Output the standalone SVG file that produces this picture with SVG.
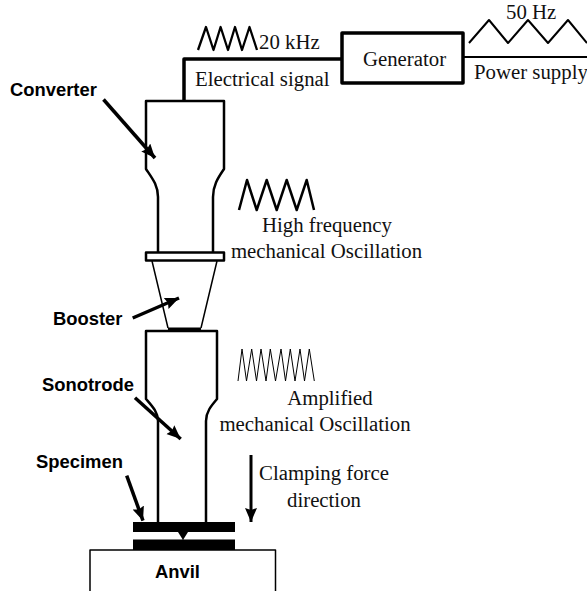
<svg xmlns="http://www.w3.org/2000/svg" width="587" height="591" viewBox="0 0 587 591">
<style>
.s{font-family:"Liberation Serif","Times New Roman",serif;font-size:20.800px;fill:#111}
.m{text-anchor:middle}
.b{font-family:"Liberation Sans",Arial,sans-serif;font-size:18.400px;font-weight:bold;fill:#000}
.o{fill:none;stroke:#000;stroke-linejoin:round}
.a{stroke:#000;stroke-width:3.500;fill:none}
</style>
<defs>
<marker id="ah" markerUnits="userSpaceOnUse" markerWidth="15" markerHeight="14" refX="14" refY="6" orient="auto"><path d="M0 0L14 6L0 12L2 6z" fill="#000"/></marker>
</defs>
<rect width="587" height="591" fill="#fff"/>
<g id="connectors">
<path class="o" stroke-width="3.500" d="M184 101V59H341"/>
<path class="o" stroke-width="2" d="M463 57H587"/>
<path class="a" marker-end="url(#ah)" d="M103.500 99.500L155 158"/>
<path class="a" marker-end="url(#ah)" d="M132.700 318L179 298"/>
<path class="a" marker-end="url(#ah)" d="M135 397.700L180.700 439"/>
<path class="a" marker-end="url(#ah)" d="M126.700 475.700L143 520.700"/>
<path class="a" style="stroke-width:3" marker-end="url(#ah)" d="M251 455V522"/>
</g>
<g id="generator"><rect class="o" x="342" y="33" width="121" height="50" stroke-width="3.500"/><text class="s m" x="404.500" y="66">Generator</text></g>
<g id="electrical-signal"><path class="o" stroke-width="2.300" d="M198 50L206 27L213.500 50L220.600 27L228 50L235 27L242 50L249.500 27L257 50"/><text class="s" x="259" y="49">20 kHz</text><text class="s" x="195" y="86">Electrical signal</text></g>
<g id="power-supply"><path class="o" stroke-width="2" d="M469 43L489 20L508 43L528 20L548 43L568 20L587 43"/><text class="s" x="506" y="19">50 Hz</text><text class="s" x="474" y="79">Power supply</text></g>
<g id="converter"><path class="o" stroke-width="2.500" d="M158 252V197C158 185 152 178 146 169V101H224V169C218 178 213 185 213 197V252"/><text class="b" x="10" y="95.500">Converter</text></g>
<g id="flange"><rect class="o" x="146" y="252.500" width="78" height="8" stroke-width="2.500"/></g>
<g id="booster"><path class="o" stroke-width="1.500" d="M152 261L168 328M217 261L201 328"/><path class="o" stroke-width="3" d="M168 329H201"/><text class="b" x="53" y="325">Booster</text></g>
<g id="sonotrode"><path class="o" stroke-width="2.500" d="M158 522V421C158 412 152 406 146 399V331H217V399C211 406 206 412 206 421V522"/><text class="b" x="42" y="390.500">Sonotrode</text></g>
<g id="specimen"><path fill="#000" d="M133 522H235V532H188L183 540L178 532H133zM133 539.500H235V550H133z"/><text class="b" x="36" y="468">Specimen</text></g>
<g id="anvil"><path class="o" stroke-width="1.500" d="M90 591V550H275.500V591"/><text class="b m" x="177.500" y="577.500">Anvil</text></g>
<g id="high-frequency"><path class="o" stroke-width="2.500" d="M239 210L247 180L256.700 210L266.700 180L276.700 210L286.700 180L296.700 210L306.700 180L314 210"/><text class="s m" x="327" y="232">High frequency</text><text class="s m" x="326.500" y="258">mechanical Oscillation</text></g>
<g id="amplified"><path class="o" stroke-width="1" d="M238 381L242 349L246.500 381L251.700 349L256.500 381L261 349L266 381L270.300 349L275.500 381L281 349L285.500 381L290.300 349L295 381L300 349L304.500 381L309.300 349L314.300 381"/><text class="s m" x="330" y="405">Amplified</text><text class="s m" x="315" y="431">mechanical Oscillation</text></g>
<g id="clamping"><text class="s m" x="324" y="480">Clamping force</text><text class="s m" x="324" y="507">direction</text></g>
</svg>
